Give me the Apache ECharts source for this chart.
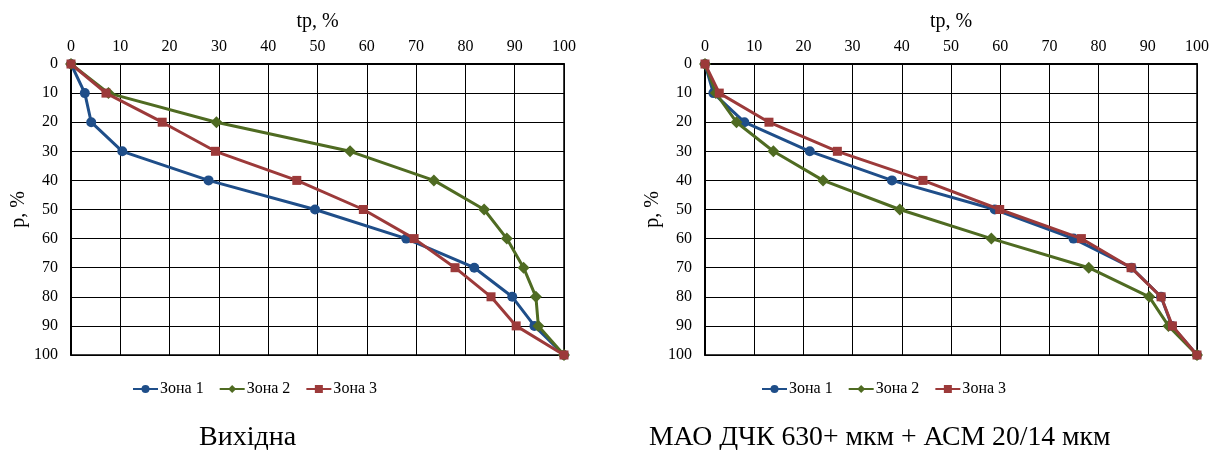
<!DOCTYPE html>
<html><head><meta charset="utf-8">
<script src="https://cdn.jsdelivr.net/npm/echarts@6/dist/echarts.min.js"></script>
<style>html,body{margin:0;padding:0;background:#fff}#c{width:1212px;height:450px}</style>
</head><body><div id="c"></div>
<script>
// p, % levels (vertical axis, inverted)
const pLevels = [0,10,20,30,40,50,60,70,80,90,100];
const xTicks = [0,10,20,30,40,50,60,70,80,90,100];
const seriesNames = ['Зона 1','Зона 2','Зона 3'];
const captions = ['Вихідна','МАО ДЧК 630+ мкм + АСМ 20/14 мкм'];
// tp, % values — left chart (Вихідна)
const leftZone1 = [0,2.8,4.1,10.4,27.9,49.5,68.0,81.8,89.5,94.0,100];
const leftZone2 = [0,7.6,29.5,56.6,73.6,83.8,88.4,91.8,94.3,94.8,100];
const leftZone3 = [0,7.1,18.5,29.3,45.8,59.3,69.6,77.9,85.2,90.3,100];
// tp, % values — right chart
const rightZone1 = [0,1.7,8.0,21.3,38.0,58.9,74.9,86.7,92.7,94.9,100];
const rightZone2 = [0,2.2,6.4,13.9,24.0,39.6,58.2,78.0,90.3,94.2,100];
const rightZone3 = [0,2.9,13.0,26.9,44.3,59.9,76.5,86.6,92.7,95.0,100];

const colors = ['#1F4E89','#4F6B22','#9C3A3A'];
const symbols = ['circle','diamond','rect'];
const symSizes = [10,12,9];
const FONT = 'Liberation Serif';

const chart = echarts.init(document.getElementById('c'));
const pairs = (xs) => xs.map((v,i)=>[v,pLevels[i]]);
const data = [[leftZone1,leftZone2,leftZone3],[rightZone1,rightZone2,rightZone3]];

const grids = [
  {left:71, top:64, width:493, height:291},
  {left:705, top:64, width:493, height:291}
];
const xAxes = [], yAxes = [], series = [];
for (let g=0; g<2; g++){
  xAxes.push({
    gridIndex:g, type:'value', position:'top', min:0, max:100, interval:10,
    name:'tp, %', nameLocation:'middle', nameGap:32,
    nameTextStyle:{fontFamily:FONT, fontSize:20, color:'#000'},
    axisLine:{show:true, lineStyle:{color:'#000', width:2}},
    axisTick:{show:false},
    axisLabel:{fontFamily:FONT, fontSize:16, color:'#000', margin:9,
      formatter:(v)=> xTicks.includes(v)? String(v):''},
    splitLine:{show:true, lineStyle:{color:'#000', width:1}}
  });
  yAxes.push({
    gridIndex:g, type:'value', inverse:true, min:0, max:100, interval:10,
    name:'p, %', nameLocation:'middle', nameGap:42, nameRotate:90,
    nameTextStyle:{fontFamily:FONT, fontSize:20, color:'#000'},
    axisLine:{show:true, lineStyle:{color:'#000', width:2}},
    axisTick:{show:false},
    axisLabel:{fontFamily:FONT, fontSize:16, color:'#000', margin:13},
    splitLine:{show:true, lineStyle:{color:'#000', width:1}}
  });
  for (let s=0; s<3; s++){
    series.push({
      name:seriesNames[s], type:'line', xAxisIndex:g, yAxisIndex:g,
      data:pairs(data[g][s]), symbol:symbols[s], symbolSize:symSizes[s],
      showSymbol:true, lineStyle:{color:colors[s], width:3},
      itemStyle:{color:colors[s]}, animation:false, z:3+s
    });
  }
}

chart.setOption({
  animation:false,
  grid:grids.map(g=>Object.assign({containLabel:false, show:true, borderColor:'#000', borderWidth:1.5, backgroundColor:'transparent'}, g)),
  xAxis:xAxes, yAxis:yAxes, series:series,
  legend:[
    {data:seriesNames, left:127, top:376, itemWidth:25, itemHeight:10, itemGap:15,
     textStyle:{fontFamily:FONT, fontSize:16, color:'#000', padding:[0,0,0,-3]}},
    {data:seriesNames, left:756, top:376, itemWidth:25, itemHeight:10, itemGap:15,
     textStyle:{fontFamily:FONT, fontSize:16, color:'#000', padding:[0,0,0,-3]}}
  ],
  graphic:[
    {type:'text', left:199, top:424, style:{text:captions[0], font:'28px "Liberation Serif"', fill:'#000'}},
    {type:'text', left:649, top:424, style:{text:captions[1], font:'27.7px "Liberation Serif"', fill:'#000'}}
  ]
});
</script></body></html>
